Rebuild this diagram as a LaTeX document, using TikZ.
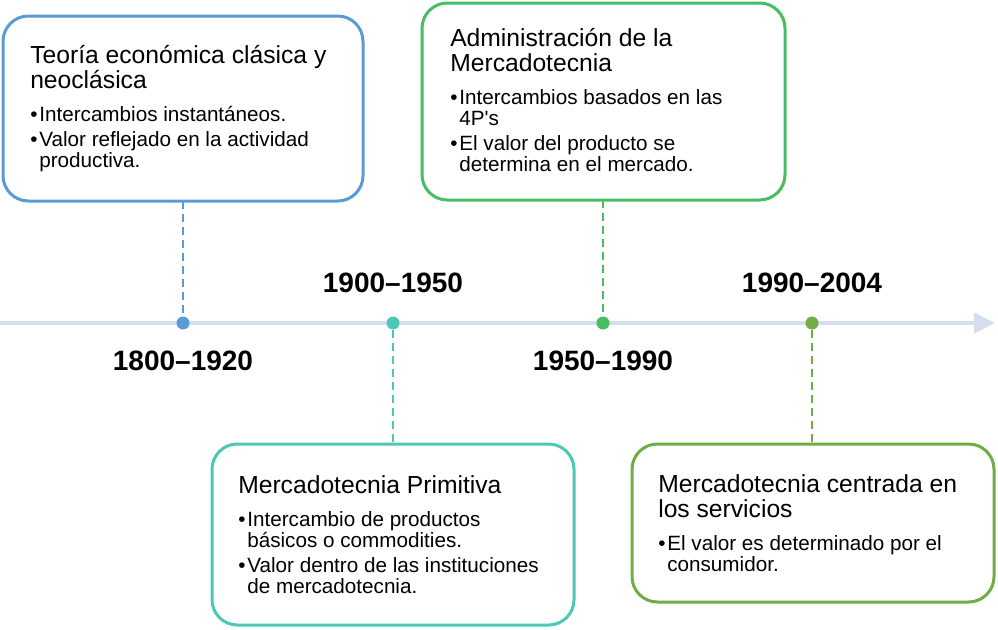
\documentclass[tikz,border=0pt]{standalone}
\usepackage{fontspec}
\setmainfont{Liberation Sans}
\usetikzlibrary{arrows.meta}
\definecolor{blueev}{HTML}{5B9BD5}
\definecolor{tealev}{HTML}{4DC8B6}
\definecolor{greenev}{HTML}{47BE62}
\definecolor{oliveev}{HTML}{70AD47}
\definecolor{lineev}{HTML}{D5DEEF}
\newcommand{\evtitle}[1]{{\fontsize{18.5}{18.75}\selectfont #1\par}\vspace{9pt}}
\newcommand{\evitem}[1]{\par\hangindent=6.8pt\hangafter=1\noindent\makebox[6.8pt][l]{\textbullet}#1\par}
\newcommand{\evsep}{\vspace{3.4pt}}
\newcommand{\evtext}[2]{\parbox[t]{260pt}{\raggedright\evtitle{#1}\fontsize{15.5}{15.75}\selectfont #2}}
\tikzset{
  evbox/.style={draw=#1, line width=2.25pt, rounded corners=19pt, fill=white, outer sep=0pt, inner sep=0pt},
  evdot/.style={circle, fill=#1, minimum size=9.75pt, inner sep=0pt},
  evlink/.style={draw=#1, line width=1.1pt, dash pattern=on 6pt off 3.75pt},
  evtxt/.style={anchor=base west, inner sep=0pt},
  evyear/.style={anchor=base, inner sep=0pt, font=\fontsize{21}{21}\selectfont\bfseries}
}
\begin{document}
\begin{tikzpicture}[x=0.75pt, y=-0.75pt]
\useasboundingbox (0,0) rectangle (998,629);
\coordinate (tl0) at (0,323);
\coordinate (tl1) at (995,323);
\draw [lineev, line width=3pt, -{Triangle[length=15.75pt, width=15pt]}] (tl0) -- (tl1);

\node [evbox=blueev, minimum width=270pt, minimum height=138.75pt] (teoria) at (183,108.5) {};
\node [evbox=greenev, minimum width=272.25pt, minimum height=147.75pt] (admin) at (603.5,101.5) {};
\node [evbox=tealev, minimum width=271.5pt, minimum height=135.75pt] (primitiva) at (393,534.5) {};
\node [evbox=oliveev, minimum width=271.5pt, minimum height=118.5pt] (servicios) at (813,523) {};

\node [evtxt] (teoriatxt) at ([shift={(27,47)}]teoria.north west) {\evtext{Teoría económica clásica y\\neoclásica}{\evitem{Intercambios instantáneos.}\evsep\evitem{Valor reflejado en la actividad\newline productiva.}}};
\node [evtxt] (admintxt) at ([shift={(28,43)}]admin.north west) {\evtext{Administración de la\\Mercadotecnia}{\evitem{Intercambios basados en las\newline 4P\textquotesingle s}\evsep\evitem{El valor del producto se\newline determina en el mercado.}}};
\node [evtxt] (primitivatxt) at ([shift={(26,49)}]primitiva.north west) {\evtext{Mercadotecnia Primitiva}{\evitem{Intercambio de productos\newline básicos o commodities.}\evsep\evitem{Valor dentro de las instituciones\newline de mercadotecnia.}}};
\node [evtxt] (serviciostxt) at ([shift={(26,48)}]servicios.north west) {\evtext{Mercadotecnia centrada en\\los servicios}{\evitem{El valor es determinado por el\newline consumidor.}}};

\node [evdot=blueev] (d1) at (183,323) {};
\node [evdot=tealev] (d2) at (393,323) {};
\node [evdot=greenev] (d3) at (603,323) {};
\node [evdot=oliveev] (d4) at (812,323) {};

\draw [evlink=blueev] (teoria.south) -- (d1.north);
\draw [evlink=tealev] (d2.south) -- (primitiva.north);
\draw [evlink=greenev] (admin.south -| d3) -- (d3.north);
\draw [evlink=oliveev] (d4.south) -- (servicios.north -| d4);

\node [evyear] (y1) at ([shift={(0,47)}]d1) {1800–1920};
\node [evyear] (y2) at ([shift={(0,-31)}]d2) {1900–1950};
\node [evyear] (y3) at ([shift={(0,47)}]d3) {1950–1990};
\node [evyear] (y4) at ([shift={(0,-31)}]d4) {1990–2004};
\end{tikzpicture}
\end{document}
